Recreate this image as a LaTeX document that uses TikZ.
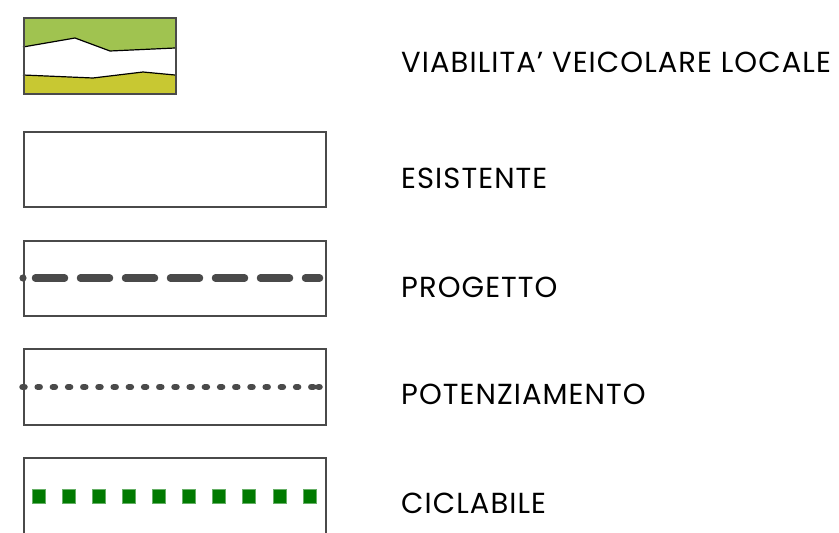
\documentclass[tikz,border=0pt]{standalone}
\usepackage{fontspec}
\setmainfont{Poppins}[LetterSpace=3.7]
\definecolor{gtop}{HTML}{A0C350}
\definecolor{ybot}{HTML}{C8C832}
\definecolor{lgray}{HTML}{4A4A4A}
\definecolor{bgreen}{HTML}{007A00}
\begin{document}
\begin{tikzpicture}[x=1pt,y=-1pt,
  legbox/.style={draw=lgray,line width=1.5pt},
  legtext/.style={anchor=west,inner sep=0pt,font=\fontsize{29}{29}\selectfont,text=black},
  dashline/.style={draw=lgray,line width=7.5pt,line cap=round},
  dotline/.style={draw=lgray,line width=6.5pt,line cap=round},
  sq/.style={fill=bgreen,draw=bgreen!60,line width=0.6pt}]
\useasboundingbox (0,0) rectangle (839,533);
% box 1
\fill[gtop] (23,17) -- (175,17) -- (175,48) -- (110,51) -- (75,38) -- (23,47) -- cycle;
\fill[ybot] (23,75) -- (93,78) -- (143,72) -- (175,75) -- (175,93) -- (23,93) -- cycle;
\draw[black,line width=1.2pt] (23,47) -- (75,38) -- (110,51) -- (175,48);
\draw[black,line width=1.2pt] (23,75) -- (93,78) -- (143,72) -- (175,75);
\node[legbox,minimum width=152pt,minimum height=76pt,inner sep=0pt,anchor=north west] (b1) at (23,17) {};
\node[legtext] (t1) at (401,62) {VIABILITA’ VEICOLARE LOCALE};
% box 2
\node[legbox,minimum width=302pt,minimum height=75pt,inner sep=0pt,anchor=north west] (b2) at (23,131) {};
\node[legtext] (t2) at (401,178) {ESISTENTE};
% box 3
\node[legbox,minimum width=302pt,minimum height=75pt,inner sep=0pt,anchor=north west] (b3) at (23,240) {};
\fill[lgray] (23,278) circle (3.6pt);
\foreach \i in {0,...,5} {
  \draw[dashline] ({35.5+45*\i},278) -- ({64.5+45*\i},278);
}
\draw[dashline] (305.5,278) -- (319.5,278);
\node[legtext] (t3) at (401,287) {PROGETTO};
% box 4
\node[legbox,minimum width=302pt,minimum height=76pt,inner sep=0pt,anchor=north west] (b4) at (23,348) {};
\foreach \i in {0,...,19} {
  \draw[dotline] ({22.5+15.2*\i},387) -- ({24.5+15.2*\i},387);
}
\draw[dotline] (318.5,387) -- (319.5,387);
\node[legtext] (t4) at (401,394) {POTENZIAMENTO};
% box 5
\node[legbox,minimum width=302pt,minimum height=78pt,inner sep=0pt,anchor=north west] (b5) at (23,457) {};
\foreach \i in {0,...,9} {
  \draw[sq] ({32+30.1*\i},489) rectangle ({45+30.1*\i},503);
}
\node[legtext] (t5) at (401,503) {CICLABILE};
\end{tikzpicture}
\end{document}
